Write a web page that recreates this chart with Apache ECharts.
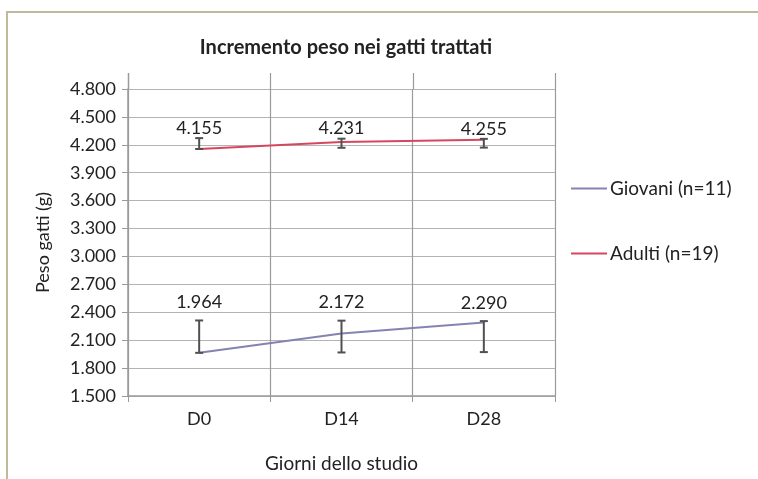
<!DOCTYPE html>
<html>
<head>
<meta charset="utf-8">
<script src="https://cdn.jsdelivr.net/npm/echarts@6/dist/echarts.min.js"></script>
<style>
  html, body { margin: 0; padding: 0; background: #fff; }
  #chart { width: 758px; height: 479px; }
</style>
</head>
<body>
<div id="chart"></div>
<script>
// dati (grammi)
var giorni = ["D0", "D14", "D28"];
var giovani = [1964, 2172, 2290];
var giovaniLow = [1964, 1968, 1972];
var giovaniHigh = [2312, 2310, 2305];
var adulti = [4155, 4231, 4255];
var adultiLow = [4155, 4168, 4170];
var adultiHigh = [4272, 4266, 4264];
var yTicks = { min: 1500, max: 4800, step: 300 };

var colGiovani = "#8583b2";
var colAdulti = "#d6475f";
var font = "Lato, 'Open Sans', sans-serif";

// formato italiano 4800 -> 4.800
function fmt(v) {
  var s = String(Math.round(v));
  return s.slice(0, -3) + "." + s.slice(-3);
}

// barre di errore + etichette
function erroreSerie(name, vals, low, high, labelGap) {
  return {
    name: name + "_err",
    type: "custom",
    z: 5,
    data: vals.map(function (v, i) { return [i, low[i], high[i], v]; }),
    renderItem: function (params, api) {
      var lo = api.coord([api.value(0), api.value(1)]);
      var hi = api.coord([api.value(0), api.value(2)]);
      var w = 4;
      var st = { stroke: "#505050", lineWidth: 2 };
      return {
        type: "group",
        children: [
          { type: "line", shape: { x1: hi[0], y1: hi[1], x2: lo[0], y2: lo[1] }, style: st },
          { type: "line", shape: { x1: hi[0] - w, y1: hi[1], x2: hi[0] + w, y2: hi[1] }, style: st },
          { type: "line", shape: { x1: lo[0] - w, y1: lo[1], x2: lo[0] + w, y2: lo[1] }, style: st },
          {
            type: "text",
            style: {
              x: hi[0], y: hi[1] - labelGap,
              text: fmt(api.value(3)),
              fill: "#222", font: "18px " + font,
              align: "center", verticalAlign: "middle"
            }
          }
        ]
      };
    },
    encode: { x: 0, y: [1, 2] },
    silent: true
  };
}

var chart = echarts.init(document.getElementById("chart"));
chart.setOption({
  backgroundColor: "#fff",
  animation: false,
  title: {
    text: "Incremento peso nei gatti trattati",
    left: 341, top: 33, textAlign: "center",
    textStyle: { fontFamily: font, fontSize: 20, fontWeight: "bold", color: "#222" }
  },
  legend: {
    orient: "vertical",
    left: 566, top: 174,
    itemWidth: 36, itemHeight: 18, itemGap: 46,
    icon: "path://M0,8h36v2h-36z",
    data: ["Giovani (n=11)", "Adulti (n=19)"],
    textStyle: { fontFamily: font, fontSize: 19, color: "#222", padding: [0, 0, 0, -2] }
  },
  grid: { left: 128, right: 203, top: 89, bottom: 83 },
  xAxis: {
    type: "category",
    data: giorni,
    boundaryGap: true,
    name: "Giorni dello studio",
    nameLocation: "middle",
    nameGap: 58,
    nameTextStyle: { fontFamily: font, fontSize: 19, color: "#222" },
    axisLine: { lineStyle: { color: "#9a9a9a", width: 1.5 } },
    axisTick: { show: true, length: 6, lineStyle: { color: "#9a9a9a" } },
    axisLabel: { fontFamily: font, fontSize: 18, color: "#222", margin: 14 },
    splitLine: { show: true, lineStyle: { color: "#9a9a9a", width: 1.2 } }
  },
  yAxis: {
    type: "value",
    min: yTicks.min, max: yTicks.max, interval: yTicks.step,
    name: "Peso gatti (g)",
    nameLocation: "middle",
    nameGap: 76,
    nameTextStyle: { fontFamily: font, fontSize: 18, color: "#222" },
    axisLine: { show: true, lineStyle: { color: "#9a9a9a", width: 1.5 } },
    axisTick: { show: true, length: 6, lineStyle: { color: "#9a9a9a" } },
    axisLabel: { fontFamily: font, fontSize: 18, color: "#222", margin: 12, formatter: fmt },
    splitLine: { lineStyle: { color: "#b4b4b4", width: 1.2 } }
  },
  series: [
    {
      name: "Giovani (n=11)",
      type: "line",
      data: giovani,
      symbol: "none",
      lineStyle: { color: colGiovani, width: 2 },
      itemStyle: { color: colGiovani }
    },
    {
      name: "Adulti (n=19)",
      type: "line",
      data: adulti,
      symbol: "none",
      lineStyle: { color: colAdulti, width: 2 },
      itemStyle: { color: colAdulti }
    },
    erroreSerie("Giovani", giovani, giovaniLow, giovaniHigh, 18),
    erroreSerie("Adulti", adulti, adultiLow, adultiHigh, 10)
  ]
});

// cornice e prolungamento delle linee verticali sopra l'area del grafico
var c0 = chart.convertToPixel({ xAxisIndex: 0 }, 0);
var c1 = chart.convertToPixel({ xAxisIndex: 0 }, 1);
var band = c1 - c0;
var yTop = chart.convertToPixel({ yAxisIndex: 0 }, yTicks.max);
var extra = [{ type: "polyline", shape: { points: [[7, 479], [7, 12], [758, 12]] },
  style: { stroke: "#bdbb9c", lineWidth: 2, fill: null } }];
for (var k = 0; k <= giorni.length; k++) {
  var x = Math.round(c0 - band / 2 + k * band) + 0.5;
  extra.push({ type: "line", shape: { x1: x, y1: yTop - 16, x2: x, y2: yTop },
    style: { stroke: "#9a9a9a", lineWidth: k === 0 ? 1.5 : 1.2 } });
}
chart.setOption({ graphic: extra });
</script>
</body>
</html>
